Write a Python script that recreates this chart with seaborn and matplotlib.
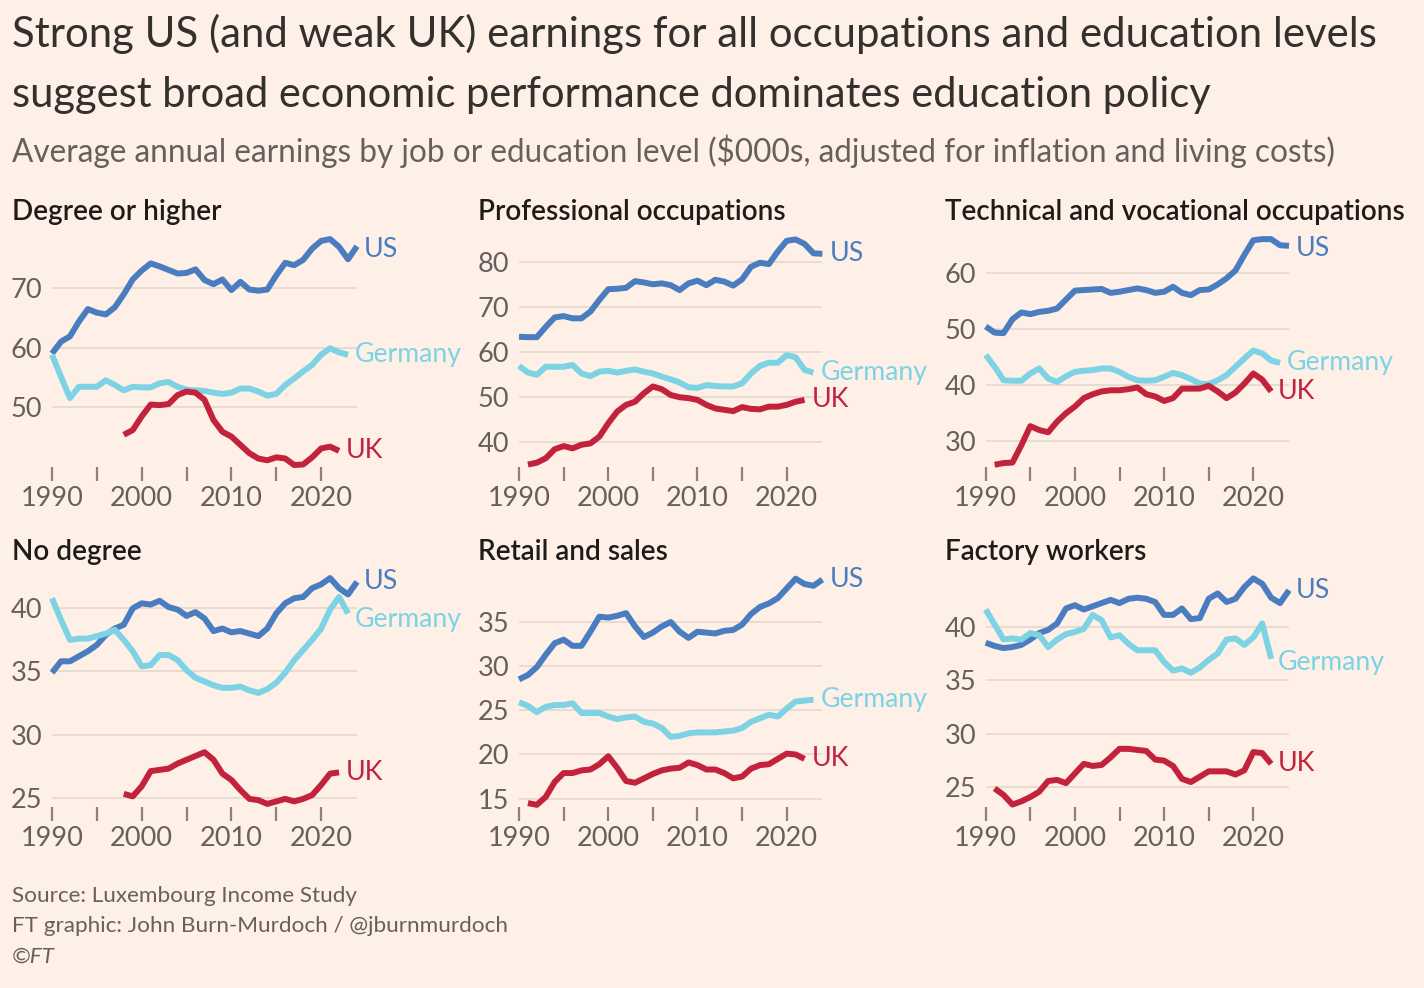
import matplotlib
matplotlib.use("Agg")
import matplotlib.pyplot as plt
import numpy as np
import pandas as pd
import seaborn as sns

# ---------------- data ($000s) ----------------
US_YEARS = list(range(1990, 2025))
GER_YEARS = list(range(1990, 2024))
GER_YEARS_FACTORY = list(range(1990, 2023))
UK_YEARS_98 = list(range(1998, 2023))
UK_YEARS_91 = list(range(1991, 2023))

degree_us = [59.0, 61.0, 61.9, 64.4, 66.5, 65.9, 65.6, 66.8, 69.0, 71.5,
             73.0, 74.2, 73.7, 73.1, 72.5, 72.6, 73.2, 71.4, 70.7, 71.5,
             69.7, 71.1, 69.8, 69.6, 69.8, 72.2, 74.3, 73.9, 74.8, 76.7,
             78.0, 78.3, 77.0, 74.9, 77.1]
degree_ger = [58.8, 55.1, 51.5, 53.4, 53.4, 53.4, 54.5, 53.7, 52.8, 53.4,
              53.3, 53.3, 54.0, 54.2, 53.4, 52.9, 52.8, 52.7, 52.4, 52.2,
              52.4, 53.1, 53.1, 52.6, 51.9, 52.2, 53.7, 54.8, 56.0, 57.1,
              58.8, 59.9, 59.2, 58.8]
degree_uk = [45.3, 46.1,
             48.4, 50.4, 50.3, 50.5, 52.0, 52.6, 52.4, 51.2, 47.8, 45.8,
             45.0, 43.6, 42.2, 41.3, 41.0, 41.5, 41.3, 40.2, 40.3, 41.5,
             43.0, 43.3, 42.6]

prof_us = [63.4, 63.3, 63.3, 65.6, 67.7, 68.0, 67.5, 67.5, 69.0, 71.6,
           74.0, 74.1, 74.3, 75.8, 75.5, 75.1, 75.3, 74.9, 73.8, 75.3,
           75.9, 74.9, 76.1, 75.7, 74.8, 76.2, 79.0, 79.9, 79.6, 82.4,
           84.8, 85.1, 84.1, 82.0, 81.9]
prof_ger = [56.9, 55.4, 54.9, 56.7, 56.7, 56.7, 57.1, 55.2, 54.6, 55.6,
            55.8, 55.4, 55.8, 56.1, 55.6, 55.2, 54.5, 53.9, 53.2, 52.1,
            52.0, 52.6, 52.4, 52.3, 52.3, 53.0, 55.2, 56.9, 57.6, 57.6,
            59.3, 58.8, 56.0, 55.4]
prof_uk = [34.9, 35.3, 36.3, 38.3, 39.0, 38.5, 39.3, 39.6, 41.1,
           44.1, 46.7, 48.2, 48.9, 50.8, 52.3, 51.7, 50.4, 49.9, 49.7,
           49.3, 48.2, 47.4, 47.1, 46.8, 47.7, 47.3, 47.2, 47.8, 47.8,
           48.2, 48.9, 49.3]

tech_us = [50.4, 49.3, 49.2, 51.7, 52.9, 52.6, 53.0, 53.2, 53.6, 55.2,
           56.8, 56.9, 57.0, 57.1, 56.4, 56.6, 56.9, 57.2, 56.9, 56.4,
           56.6, 57.5, 56.4, 56.0, 56.9, 57.0, 57.9, 59.0, 60.4, 63.2,
           65.8, 66.0, 66.0, 64.9, 64.8]
tech_ger = [45.3, 43.2, 40.8, 40.7, 40.7, 42.0, 42.9, 41.1, 40.5, 41.5,
            42.3, 42.5, 42.6, 42.9, 42.9, 42.3, 41.4, 40.8, 40.7, 40.8,
            41.4, 42.1, 41.7, 41.0, 40.2, 40.1, 40.8, 41.7, 43.2, 44.7,
            46.1, 45.6, 44.3, 43.9]
tech_uk = [25.7, 26.0, 26.1, 29.2, 32.6, 31.9, 31.5, 33.4, 34.9,
           36.1, 37.6, 38.3, 38.8, 39.0, 39.0, 39.2, 39.5, 38.3, 37.9,
           37.1, 37.6, 39.3, 39.3, 39.3, 39.8, 38.8, 37.6, 38.6, 40.2,
           42.0, 40.9, 38.8]

nodeg_us = [34.9, 35.8, 35.8, 36.2, 36.6, 37.1, 37.9, 38.4, 38.7, 40.0,
            40.4, 40.3, 40.6, 40.1, 39.9, 39.4, 39.7, 39.2, 38.2, 38.4,
            38.1, 38.2, 38.0, 37.8, 38.4, 39.6, 40.4, 40.8, 40.9, 41.6,
            41.9, 42.4, 41.6, 41.1, 42.1]
nodeg_ger = [40.8, 39.1, 37.5, 37.6, 37.6, 37.8, 38.0, 38.3, 37.5, 36.6,
             35.4, 35.5, 36.3, 36.3, 35.9, 35.1, 34.5, 34.2, 33.9, 33.7,
             33.7, 33.8, 33.5, 33.3, 33.6, 34.1, 34.9, 35.9, 36.7, 37.5,
             38.4, 39.9, 40.9, 39.6]
nodeg_uk = [25.3, 25.1,
            25.9, 27.1, 27.2, 27.3, 27.7, 28.0, 28.3, 28.6, 28.0, 26.9,
            26.4, 25.6, 24.9, 24.8, 24.5, 24.7, 24.9, 24.7, 24.9, 25.2,
            26.0, 26.9, 27.0]

retail_us = [28.5, 29.0, 29.9, 31.3, 32.6, 33.0, 32.3, 32.3, 33.9, 35.6,
             35.5, 35.7, 36.0, 34.5, 33.3, 33.8, 34.5, 35.0, 33.9, 33.2,
             33.9, 33.8, 33.7, 34.0, 34.1, 34.7, 35.9, 36.7, 37.1, 37.7,
             38.8, 39.9, 39.3, 39.1, 39.8]
retail_ger = [25.9, 25.5, 24.8, 25.4, 25.6, 25.6, 25.8, 24.7, 24.7, 24.7,
              24.3, 24.0, 24.2, 24.3, 23.7, 23.5, 23.0, 22.0, 22.1, 22.4,
              22.5, 22.5, 22.5, 22.6, 22.7, 23.0, 23.7, 24.1, 24.5, 24.3,
              25.2, 26.0, 26.1, 26.2]
retail_uk = [14.5, 14.3, 15.2, 16.9, 17.9, 17.9, 18.2, 18.3, 18.9,
             19.8, 18.5, 17.0, 16.8, 17.3, 17.8, 18.2, 18.4, 18.5, 19.1,
             18.8, 18.3, 18.3, 17.9, 17.3, 17.5, 18.4, 18.8, 18.9, 19.5,
             20.1, 20.0, 19.5]

factory_us = [38.5, 38.2, 38.0, 38.1, 38.3, 38.8, 39.4, 39.7, 40.3, 41.7,
              42.0, 41.6, 41.9, 42.2, 42.5, 42.2, 42.6, 42.7, 42.6, 42.3,
              41.1, 41.1, 41.7, 40.7, 40.8, 42.6, 43.1, 42.3, 42.6, 43.7,
              44.5, 44.0, 42.7, 42.2, 43.4]
factory_ger = [41.6, 40.2, 38.8, 38.9, 38.8, 39.4, 39.2, 38.1, 38.8, 39.3,
               39.5, 39.8, 41.1, 40.6, 39.0, 39.2, 38.4, 37.8, 37.8, 37.8,
               36.7, 35.9, 36.1, 35.7, 36.2, 36.9, 37.5, 38.8, 38.9, 38.3,
               39.0, 40.3, 37.0]
factory_uk = [24.9, 24.3, 23.4, 23.7, 24.1, 24.6, 25.6, 25.7, 25.4,
              26.3, 27.2, 27.0, 27.1, 27.8, 28.6, 28.6, 28.5, 28.4, 27.6,
              27.5, 27.0, 25.8, 25.5, 26.0, 26.5, 26.5, 26.5, 26.2, 26.6,
              28.3, 28.2, 27.2]

PANEL_TITLES = ["Degree or higher", "Professional occupations",
                "Technical and vocational occupations",
                "No degree", "Retail and sales", "Factory workers"]
COUNTRIES = ["US", "Germany", "UK"]
Y_TICKS = [[50, 60, 70], [40, 50, 60, 70, 80], [30, 40, 50, 60],
           [25, 30, 35, 40], [15, 20, 25, 30, 35], [25, 30, 35, 40]]

panels = [
    {"US": (US_YEARS, degree_us), "Germany": (GER_YEARS, degree_ger), "UK": (UK_YEARS_98, degree_uk)},
    {"US": (US_YEARS, prof_us), "Germany": (GER_YEARS, prof_ger), "UK": (UK_YEARS_91, prof_uk)},
    {"US": (US_YEARS, tech_us), "Germany": (GER_YEARS, tech_ger), "UK": (UK_YEARS_91, tech_uk)},
    {"US": (US_YEARS, nodeg_us), "Germany": (GER_YEARS, nodeg_ger), "UK": (UK_YEARS_98, nodeg_uk)},
    {"US": (US_YEARS, retail_us), "Germany": (GER_YEARS, retail_ger), "UK": (UK_YEARS_91, retail_uk)},
    {"US": (US_YEARS, factory_us), "Germany": (GER_YEARS_FACTORY, factory_ger), "UK": (UK_YEARS_91, factory_uk)},
]

# ---------------- style ----------------
BG = "#FEF0E7"
INK = "#33302E"
GREY = "#66605C"
GRID = "#E6D9D0"
PALETTE = {"US": "#4A7DC0", "Germany": "#7DD3E3", "UK": "#C2223B"}

sns.set_theme(style="white")
plt.rcParams["font.family"] = ["Lato", "DejaVu Sans"]

W, H = 1424, 988
fig = plt.figure(figsize=(W / 100, H / 100), dpi=100, facecolor=BG)
renderer = fig.canvas.get_renderer()


def fit_text(x_px, y_px, s, width_px, size0=20, **kw):
    t = fig.text(x_px / W, 1 - y_px / H, s, fontsize=size0, va="baseline",
                 ha="left", **kw)
    bb = t.get_window_extent(renderer)
    t.set_fontsize(size0 * width_px / bb.width)
    return t


def fitted_size(s, width_px, size0=20, **kw):
    t = fig.text(0, 0, s, fontsize=size0, **kw)
    bb = t.get_window_extent(renderer)
    t.remove()
    return size0 * width_px / bb.width


tick_fs = fitted_size("1990", 63)
label_fs = fitted_size("Germany", 107)
ptitle_fs = fitted_size("Degree or higher", 209, fontweight="semibold")

# titles
fit_text(12, 47, "Strong US (and weak UK) earnings for all occupations and education levels",
         1366, color=INK)
fit_text(12, 107, "suggest broad economic performance dominates education policy",
         1201, color=INK)
fit_text(12, 162, "Average annual earnings by job or education level ($000s, adjusted for inflation and living costs)",
         1326, color=GREY)

# footer
foot_fs = fitted_size("FT graphic: John Burn-Murdoch / @jburnmurdoch", 496)
fig.text(12 / W, 1 - 902 / H, "Source: Luxembourg Income Study", fontsize=foot_fs,
         color=GREY, va="baseline")
fig.text(12 / W, 1 - 932 / H, "FT graphic: John Burn-Murdoch / @jburnmurdoch",
         fontsize=foot_fs, color=GREY, va="baseline")
fig.text(12 / W, 1 - 963 / H, "©FT", fontsize=foot_fs, color=GREY,
         va="baseline", style="italic")

# axes geometry (pixels)
col_left = [52, 519, 985.7]
col_right = [357, 822.4, 1289]
row_top = [232, 572]
row_bottom = [467, 806.7]
title_x = [12, 478, 945]
title_base = [220, 560]
YLIMS = [(39.87, 79.5), (34.34, 86.76), (25.3, 67.27),
         (24.28, 42.88), (14.09, 40.66), (23.2, 45.1)]
LABEL_DY = [{"US": -2}, {}, {"US": -2}, {"Germany": -4.5}, {}, {"Germany": -3}]

for i, pdata in enumerate(panels):
    r, c = divmod(i, 3)
    left = col_left[c] / W
    width = (col_right[c] - col_left[c]) / W
    bottom = 1 - row_bottom[r] / H
    height = (row_bottom[r] - row_top[r]) / H
    ax = fig.add_axes([left, bottom, width, height])
    ax.set_facecolor(BG)

    frames = []
    for cname in COUNTRIES:
        yrs, vals = pdata[cname]
        frames.append(pd.DataFrame({"year": yrs, "value": vals, "country": cname}))
    df = pd.concat(frames, ignore_index=True)

    sns.lineplot(data=df, x="year", y="value", hue="country",
                 hue_order=COUNTRIES, palette=PALETTE, ax=ax, legend=False,
                 linewidth=4.3, clip_on=False, solid_joinstyle="round",
                 solid_capstyle="butt", zorder=3)

    ax.set_xlim(1990, 2024)
    ax.set_ylim(*YLIMS[i])
    ax.set_xticks([1990, 2000, 2010, 2020])
    ax.set_xticks([1995, 2005, 2015], minor=True)
    ax.set_yticks(Y_TICKS[i])
    ax.set_xlabel("")
    ax.set_ylabel("")
    for s in ax.spines.values():
        s.set_visible(False)
    ax.grid(axis="y", color=GRID, linewidth=1.3, zorder=0)
    ax.grid(axis="x", visible=False)
    ax.tick_params(axis="x", which="both", direction="out", length=10,
                   width=1.6, color="#8A827D", bottom=True, pad=4,
                   labelsize=tick_fs, labelcolor=GREY)
    ax.tick_params(axis="y", length=0, pad=7, labelsize=tick_fs,
                   labelcolor=GREY)
    ax.set_axisbelow(True)

    for cname in COUNTRIES:
        yrs, vals = pdata[cname]
        dy = LABEL_DY[i].get(cname, 0)
        ax.annotate(cname, xy=(yrs[-1], vals[-1]), xytext=(5, dy),
                    textcoords="offset points", va="center", ha="left",
                    color=PALETTE[cname], fontsize=label_fs,
                    annotation_clip=False)

    fig.text(title_x[c] / W, 1 - title_base[r] / H, PANEL_TITLES[i],
             fontsize=ptitle_fs, fontweight="semibold", color="#1E1B19",
             va="baseline", ha="left")

fig.savefig("out.png", dpi=100, facecolor=BG)
